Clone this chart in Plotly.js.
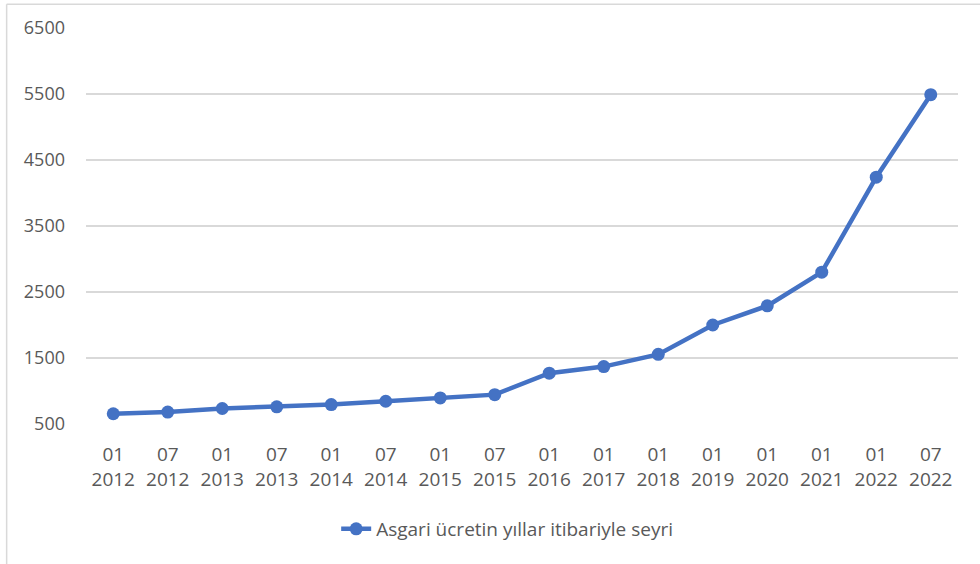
<!DOCTYPE html>
<html>
<head>
<meta charset="utf-8">
<script src="https://cdn.plot.ly/plotly-3.0.1.min.js"></script>
<style>
  html, body { margin: 0; padding: 0; background: #ffffff; }
  #chart { width: 980px; height: 564px; }
</style>
</head>
<body>
<div id="chart"></div>
<script>
// Period labels (month / year) and minimum wage in TL
const months = ["01", "07", "01", "07", "01", "07", "01", "07", "01", "01", "01", "01", "01", "01", "01", "07"];
const years = ["2012", "2012", "2013", "2013", "2014", "2014", "2015", "2015", "2016", "2017", "2018", "2019", "2020", "2021", "2022", "2022"];
const wages = [655, 680, 735, 760, 795, 845, 895, 945, 1270, 1370, 1555, 2000, 2290, 2800, 4240, 5490];
const seriesName = "Asgari ücretin yıllar itibariyle seyri";
const yTicks = [500, 1500, 2500, 3500, 4500, 5500, 6500];

const categories = months.map((m, i) => m + "<br>" + years[i]);
const xIdx = categories.map((_, i) => i);

const textColor = "#595959";
const gridColor = "#d9d9d9";
const lineColor = "#4472C4";
const font = "'Open Sans', 'Noto Sans', sans-serif";

const trace = {
  type: "scatter",
  mode: "lines+markers",
  x: xIdx,
  y: wages,
  name: seriesName,
  line: { color: lineColor, width: 4.5 },
  marker: { color: lineColor, size: 13 },
  hoverinfo: "skip"
};

const layout = {
  width: 980,
  height: 564,
  margin: { l: 86, r: 22, t: 28, b: 140 },
  paper_bgcolor: "#ffffff",
  plot_bgcolor: "#ffffff",
  font: { family: font, size: 18, color: textColor },
  xaxis: {
    range: [-0.5, 15.5],
    tickmode: "array",
    tickvals: xIdx,
    ticktext: categories,
    showgrid: false,
    zeroline: false,
    showline: false,
    ticks: "",
    ticklabelstandoff: 17,
    tickfont: { family: font, size: 19, color: textColor }
  },
  yaxis: {
    range: [500, 6500],
    tickmode: "array",
    tickvals: yTicks,
    ticktext: yTicks.map(String),
    showgrid: true,
    gridcolor: gridColor,
    gridwidth: 1.5,
    zeroline: false,
    showline: false,
    ticks: "",
    ticklabelstandoff: 20,
    tickfont: { family: font, size: 18, color: textColor }
  },
  showlegend: true,
  legend: {
    orientation: "h",
    x: 0.483,
    xanchor: "center",
    y: -0.265,
    yanchor: "middle",
    font: { family: font, size: 19, color: textColor }
  },
  shapes: [
    // thin frame on the left and top edges of the chart area
    { type: "line", xref: "paper", yref: "paper", x0: -0.091, x1: -0.091, y0: 1.06, y1: -0.36,
      line: { color: gridColor, width: 1.5 } },
    { type: "line", xref: "paper", yref: "paper", x0: -0.091, x1: 1.03, y0: 1.06, y1: 1.06,
      line: { color: gridColor, width: 1.5 } }
  ]
};

Plotly.newPlot("chart", [trace], layout, { displayModeBar: false, staticPlot: true });
</script>
</body>
</html>
